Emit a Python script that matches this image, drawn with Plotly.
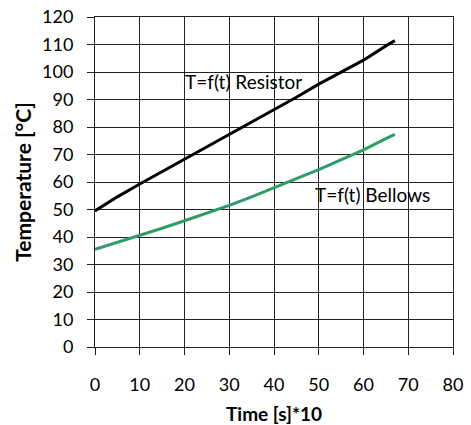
import plotly.graph_objects as go

time_pts = [0, 5, 10, 15, 20, 25, 30, 35, 40, 45, 50, 55, 60, 65, 67]
resistor = [49.5, 54.6, 59.3, 63.8, 68.5, 72.9, 77.2, 82.0, 86.5, 90.8, 95.6, 99.9, 104.3, 109.5, 111.4]
bellows = [35.5, 38.0, 40.6, 43.2, 45.9, 48.6, 51.5, 54.6, 58.0, 61.2, 64.5, 68.0, 71.7, 75.8, 77.3]

x_ticks = [0, 10, 20, 30, 40, 50, 60, 70, 80]
y_ticks = [0, 10, 20, 30, 40, 50, 60, 70, 80, 90, 100, 110, 120]

FONT = "Lato"

fig = go.Figure()
fig.add_trace(go.Scatter(x=time_pts, y=resistor, mode="lines",
                         line=dict(color="black", width=3), name="Resistor"))
fig.add_trace(go.Scatter(x=time_pts, y=bellows, mode="lines",
                         line=dict(color="#2f9c68", width=3), name="Bellows"))

fig.add_annotation(x=33.1, y=96.4, text="T=f(t) Resistor", showarrow=False,
                   font=dict(family=FONT, size=19, color="black"))
fig.add_annotation(x=62, y=55.6, text="T=f(t) Bellows", showarrow=False,
                   font=dict(family=FONT, size=19, color="black"))
# x-axis title
fig.add_annotation(x=0.5, y=0, xref="paper", yref="paper", yanchor="middle",
                   yshift=-66, borderpad=0, text="<b>Time [s]*10</b>", showarrow=False,
                   font=dict(family=FONT, size=19, color="black"))

axis_common = dict(showgrid=True, gridcolor="#222222", gridwidth=1,
                   showline=True, linecolor="#222222", linewidth=1, mirror=True,
                   ticks="outside", ticklen=7, tickcolor="#222222", zeroline=False,
                   automargin=False,
                   tickfont=dict(family=FONT, size=18, color="black"))

fig.update_xaxes(range=[0, 80], tickvals=x_ticks, ticklabelstandoff=14,
                 **axis_common)
fig.update_yaxes(range=[0, 120], tickvals=y_ticks, ticklabelstandoff=10,
                 title=dict(text="<b>Temperature [°C]</b>", standoff=4,
                            font=dict(family=FONT, size=21, color="black")),
                 **axis_common)

fig.update_layout(width=471, height=425, showlegend=False,
                  margin=dict(l=95, r=18, t=17, b=78),
                  plot_bgcolor="white", paper_bgcolor="white")

fig.write_html("out.html", config={"displayModeBar": False},
               post_script="document.body.style.margin='0';document.body.style.padding='0';")
